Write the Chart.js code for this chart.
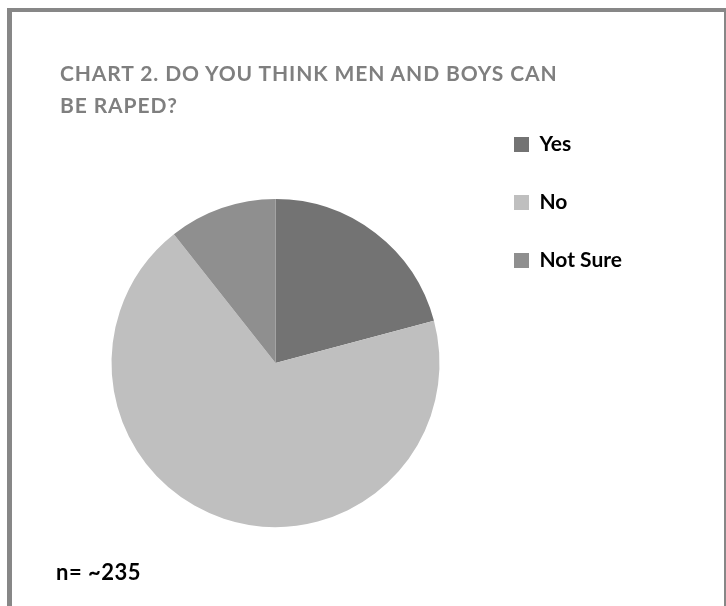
<!DOCTYPE html>
<html>
<head>
<meta charset="utf-8">
<script src="https://cdn.jsdelivr.net/npm/chart.js@4/dist/chart.umd.min.js"></script>
<style>
  html, body { margin: 0; padding: 0; background: #fff; }
  body { width: 726px; height: 606px; overflow: hidden; position: relative; font-family: Lato, "Open Sans", sans-serif; }
  .frame {
    position: absolute; left: 7px; top: 8px; width: 712px; height: 700px;
    border-left: 5px solid #878787; border-top: 4px solid #878787; border-right: 2px solid #878787;
  }
  #chart { position: absolute; left: 0; top: 0; }
  .title {
    position: absolute; left: 60px; top: 57px; margin: 0;
    font-size: 21px; font-weight: bold; letter-spacing: 0.9px; line-height: 32px; color: #7f7f7f; white-space: nowrap;
  }
  .note {
    position: absolute; left: 56px; top: 556px; margin: 0;
    font-size: 22px; font-weight: bold; letter-spacing: 0.5px; line-height: 32px; color: #000; z-index: 2;
  }
</style>
</head>
<body>
<div class="frame"></div>
<canvas id="chart" width="726" height="629"></canvas>
<div class="title">CHART 2. DO YOU THINK MEN AND BOYS CAN<br>BE RAPED?</div>
<div class="note">n= ~235</div>
<script>
const answers = ['Yes', 'No', 'Not Sure'];
const responses = [49, 161, 25];
const sliceColors = ['#737373', '#bfbfbf', '#8f8f8f'];

const labelFont = { family: 'Lato', size: 21, weight: 'bold' };
const boxSize = 15;
const itemGap = 37;

// legend column should start at x=514; size the right padding from the widest label
const measure = document.createElement('canvas').getContext('2d');
measure.font = 'bold 21px Lato';
const widest = Math.max(...answers.map(a => measure.measureText(a).width));
const legendLeft = 514 - itemGap;
const legendWidth = itemGap + boxSize + labelFont.size / 2 + widest + 10;

new Chart(document.getElementById('chart'), {
    type: 'pie',
    data: {
        labels: answers,
        datasets: [{
            data: responses,
            backgroundColor: sliceColors,
            borderWidth: 0,
            hoverOffset: 0
        }]
    },
    options: {
        responsive: false,
        animation: false,
        radius: 164,
        layout: {
            padding: { left: 74, top: 97, bottom: 0, right: 726 - legendLeft - legendWidth }
        },
        plugins: {
            legend: {
                position: 'right',
                align: 'start',
                labels: {
                    boxWidth: boxSize,
                    boxHeight: boxSize,
                    padding: itemGap,
                    color: '#000',
                    font: labelFont
                }
            },
            tooltip: { enabled: false }
        }
    }
});
</script>
</body>
</html>
